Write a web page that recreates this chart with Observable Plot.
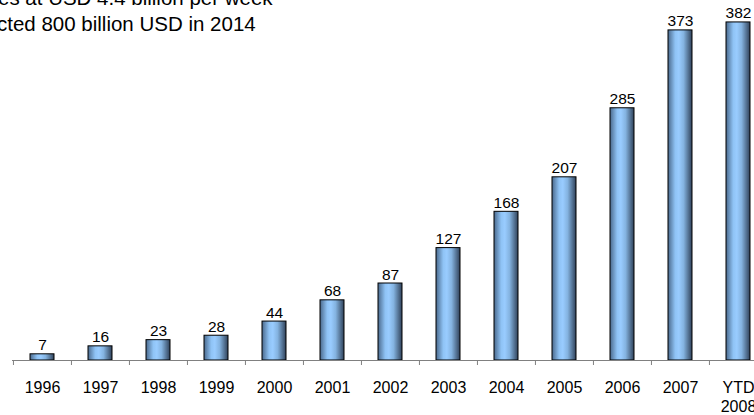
<!DOCTYPE html>
<html><head><meta charset="utf-8">
<script src="https://cdn.jsdelivr.net/npm/d3@7"></script>
<script src="https://cdn.jsdelivr.net/npm/@observablehq/plot@0.6"></script>
<style>
html,body{margin:0;padding:0;overflow:hidden;background:#fff;font-family:"Liberation Sans",Arial,sans-serif}
#wrap{position:relative;width:754px;height:415px;overflow:hidden;background:#fff}
.t{position:absolute;white-space:nowrap;font-size:20.5px;color:#000;line-height:1}
</style></head><body>
<div id="wrap"><div id="chart"></div>
<div class="t" id="l1"></div><div class="t" id="l2"></div></div>
<script>
const categories = ["1996","1997","1998","1999","2000","2001","2002","2003","2004","2005","2006","2007","YTD 2008"];
const values = [7,16,23,28,44,68,87,127,168,207,285,373,382];
const titleLines = ["es at USD 4.4 billion per week", "cted 800 billion USD in 2014"];

const data = categories.map((c, i) => ({cat: c, value: values[i]}));

const l1 = document.getElementById("l1"), l2 = document.getElementById("l2");
l1.textContent = titleLines[0];
l2.textContent = titleLines[1];
l1.style.top = "-11.8px"; l1.style.left = "-2px";
l2.style.top = "14.4px"; l2.style.left = "-3px";

const chart = Plot.plot({
  width: 754, height: 415,
  marginLeft: 12, marginRight: 0, marginTop: 6, marginBottom: 55,
  style: {fontFamily: "'Liberation Sans', Arial, sans-serif", fontSize: "16px", background: "white", color: "#000"},
  x: {type: "band", domain: categories, range: [12, 767.3], padding: 0, label: null},
  y: {domain: [0, 400], axis: null},
  marks: [
    Plot.barY(data, {x: "cat", y: "value", fill: "url(#barGrad)", stroke: "#000", strokeWidth: 1, insetLeft: 17, insetRight: 17}),
    Plot.ruleY([0], {stroke: "#808080"}),
    Plot.ruleX(categories, {x: d => d, y1: 0, y2: 0, insetBottom: -5, dx: -29.05, stroke: "#808080"}),
    Plot.axisX({tickSize: 0, tickPadding: 19, fontSize: 16, lineHeight: 1.2, fill: "#000", tickFormat: d => d.replace(" ", "\n")}),
    Plot.text(data, {x: "cat", y: "value", text: d => String(d.value), lineAnchor: "bottom", dy: -4, fontSize: 15.5, fill: "#000"})
  ]
});

const svg = d3.select(chart.tagName.toLowerCase() === "svg" ? chart : chart.querySelector("svg"));
const grad = svg.insert("defs", ":first-child").append("linearGradient")
  .attr("id", "barGrad").attr("x1", "0").attr("x2", "1").attr("y1", "0").attr("y2", "0");
[["0%", "#4a698c"], ["30%", "#8fc3f5"], ["45%", "#99ccff"], ["65%", "#84b3e0"], ["100%", "#30425a"]]
  .forEach(([o, c]) => grad.append("stop").attr("offset", o).attr("stop-color", c));

document.getElementById("chart").appendChild(chart);
</script>
</body></html>
